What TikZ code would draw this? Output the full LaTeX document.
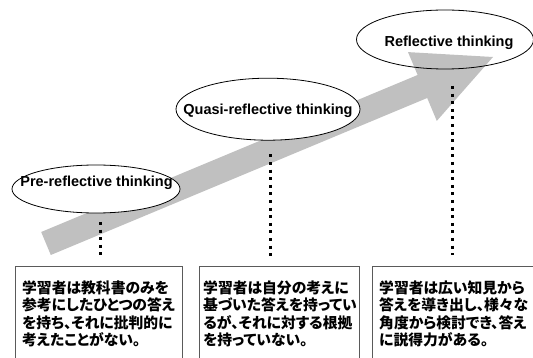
\documentclass[tikz,border=0pt]{standalone}
\usepackage{fontspec}
\setmainfont{Liberation Sans}[BoldFont={Liberation Sans Bold}]
\newfontfamily\jp{Noto Sans CJK JP}[RawFeature=+palt]
\usetikzlibrary{shapes.geometric}
\definecolor{arrowgray}{RGB}{192,192,192}
\definecolor{boxline}{RGB}{90,90,90}
\begin{document}
\begin{tikzpicture}[x=1pt,y=-1pt,
  stage/.style={ellipse, draw=black, line width=0.8pt, inner sep=0pt},
  stagetext/.style={font=\bfseries\fontsize{14.5}{17}\selectfont, inner sep=0pt, anchor=base},
  descbox/.style={draw=boxline, line width=1pt, anchor=north west, inner sep=0pt},
  desctext/.style={font=\jp\bfseries\fontsize{14.8}{17.5}\selectfont, align=left, anchor=north west, inner sep=0pt},
  dots/.style={line width=3pt, dash pattern=on 3pt off 4.6pt}]
\clip (0,0) rectangle (533,358);

% big arrow
\coordinate (tail) at (46,243.5);
\coordinate (tip) at (493,57);
\fill[arrowgray] (41.2,232) -- (417.6,75.0) -- (408,52.1) -- (tip) -- (436.8,120.9) -- (427.2,98.0) -- (50.8,255) -- cycle;

% stages
\node[stage, fill=white, minimum width=168, minimum height=48] (pre) at (96,189) {};
\node[stage, fill=white, minimum width=184, minimum height=62] (quasi) at (268,109.2) {};
\node[stage, minimum width=177, minimum height=59] (refl) at (445,39.5) {};
\node[stagetext] (pretxt) at (96.5,187) {Pre-reflective thinking};
\node[stagetext] (quasitxt) at (268,115) {Quasi-reflective thinking};
\node[stagetext] (refltxt) at (449,47) {Reflective thinking};

% boxes
\node[descbox, minimum width=167, minimum height=110] (b1) at (15,266) {};
\node[descbox, minimum width=160, minimum height=110] (b2) at (199,266) {};
\node[descbox, minimum width=170, minimum height=110] (b3) at (372,266) {};
\node[desctext] (t1) at (22,280.5) {学習者は教科書のみを\\参考にしたひとつの答え\\を持ち、それに批判的に\\考えたことがない。};
\node[desctext] (t2) at (203,280.5) {学習者は自分の考えに\\基づいた答えを持ってい\\るが、それに対する根拠\\を持っていない。};
\node[desctext] (t3) at (379,280.5) {学習者は広い知見から\\答えを導き出し、様々な\\角度から検討でき、答え\\に説得力がある。};

% dotted connectors
\coordinate (d1a) at (100,222);
\coordinate (d1b) at (100,255.4);
\coordinate (d2a) at (270,154.5);
\coordinate (d2b) at (270,257);
\coordinate (d3a) at (452.5,86);
\coordinate (d3b) at (452.5,255);
\draw[dots] (d1a) -- (d1b);
\draw[dots] (d2a) -- (d2b);
\draw[dots] (d3a) -- (d3b);
\end{tikzpicture}
\end{document}
